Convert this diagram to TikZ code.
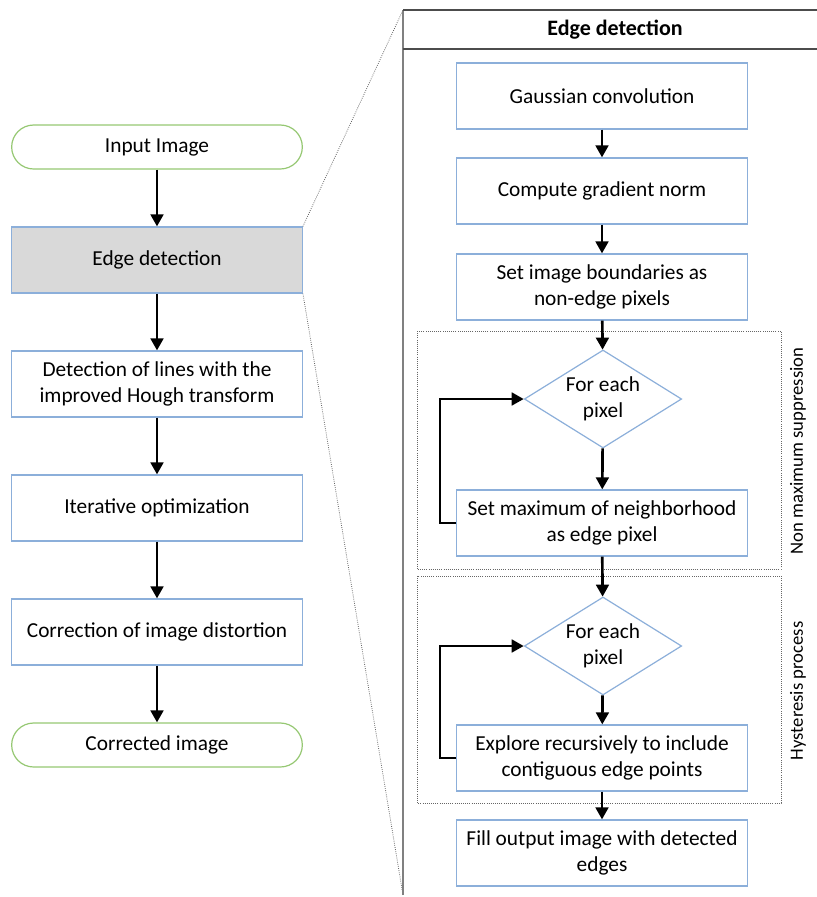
\documentclass[tikz,border=0pt]{standalone}
\usepackage{fontspec}
\setmainfont{Carlito}
\usetikzlibrary{shapes.geometric,arrows.meta}
\definecolor{boxblue}{RGB}{140,175,218}
\definecolor{termgreen}{RGB}{150,200,115}
\definecolor{edgegray}{RGB}{217,217,217}
\begin{document}
\begin{tikzpicture}[x=0.75pt,y=-0.75pt,
  font=\fontsize{16}{19.5}\selectfont,
  box/.style={draw=boxblue,fill=white,line width=0.9pt,minimum width=218pt,minimum height=49.5pt,align=center,inner sep=2pt},
  term/.style={draw=termgreen,fill=white,line width=0.9pt,rounded corners=16.5pt,minimum width=218pt,minimum height=33pt},
  test/.style={diamond,draw=boxblue,fill=white,line width=0.9pt,aspect=1.6,inner sep=0pt,minimum width=118pt,minimum height=73.5pt,align=center},
  arr/.style={line width=2pt,-{Triangle[length=9pt,width=9.5pt]}},
  zoomline/.style={densely dotted,gray!80!black,line width=0.6pt},
  group/.style={densely dotted,gray!80!black,line width=0.6pt}]
\useasboundingbox (0,0) rectangle (817,897);
% main flow
\node[term] (input) at (157,147) {Input Image};
\node[box,fill=edgegray] (edge) at (157,260) {Edge detection};
\node[box] (hough) at (157,384) {Detection of lines with the\\improved Hough transform};
\node[box] (optim) at (157,508) {Iterative optimization};
\node[box] (distort) at (157,632) {Correction of image distortion};
\node[term] (output) at (157,745) {Corrected image};
\draw[arr] (input) -- (edge);
\draw[arr] (edge) -- (hough);
\draw[arr] (hough) -- (optim);
\draw[arr] (optim) -- (distort);
\draw[arr] (distort) -- (output);
% zoom on edge detection
\coordinate (paneltop) at (403,10);
\coordinate (panelbot) at (403,895);
\draw[zoomline] (edge.north east) -- (paneltop);
\draw[zoomline] (edge.south east) -- (panelbot);
\draw[gray,line width=1.1pt] (panelbot) -- (paneltop);
\draw[gray!60!black,line width=0.9pt] (paneltop) -- (817,10);
\draw[gray!60!black,line width=0.9pt] (403,49) -- (817,49);
\node[font=\fontsize{16.5}{19.5}\selectfont\bfseries] (title) at (615,30) {Edge detection};
%\draw (403,10) rectangle (817,897);
% groups
\draw[group] (417,331) rectangle (781,569);
\draw[group] (417,576) rectangle (781,803);
\node[rotate=90,font=\fontsize{14}{17}\selectfont] (nmslabel) at (798,451) {Non maximum suppression};
\node[rotate=90,font=\fontsize{14}{17}\selectfont] (hyslabel) at (798,691) {Hysteresis process};
% edge detection steps
\node[box] (gauss) at (602,96) {Gaussian convolution};
\node[box] (grad) at (602,191) {Compute gradient norm};
\node[box] (bound) at (602,287) {Set image boundaries as\\non-edge pixels};
\node[test] (nms) at (603,399) {For each\\pixel};
\node[box] (setmax) at (602,523) {Set maximum of neighborhood\\as edge pixel};
\node[test] (hys) at (603,646) {For each\\pixel};
\node[box] (explore) at (602,758) {Explore recursively to include\\contiguous edge points};
\node[box] (fill) at (602,853) {Fill output image with detected\\edges};
\draw[arr] (gauss) -- (grad);
\draw[arr] (grad) -- (bound);
\draw[arr] (bound) -- (nms);
\draw[arr] (nms) -- (setmax);
\draw[arr] (setmax) -- (hys);
\draw[arr] (hys) -- (explore);
\draw[arr] (explore) -- (fill);
% loops
\draw[arr] (setmax.west) -- ++(-16,0) |- (nms.west);
\draw[arr] (explore.west) -- ++(-16,0) |- (hys.west);
\end{tikzpicture}
\end{document}
